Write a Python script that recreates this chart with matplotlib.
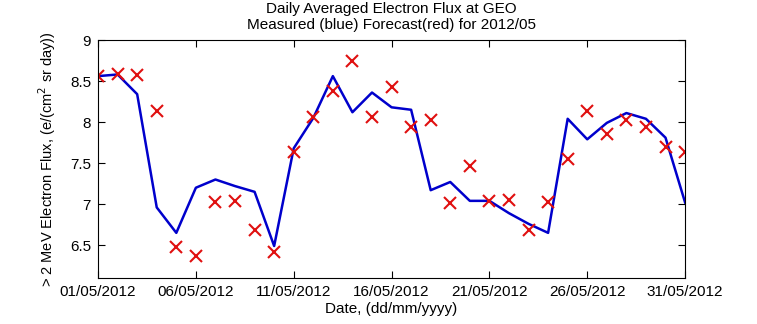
import matplotlib
matplotlib.use('Agg')
import matplotlib.pyplot as plt

plt.rcParams['font.family'] = ['Liberation Sans', 'DejaVu Sans']

days = list(range(1, 32))
measured = [8.56, 8.58, 8.34, 6.96, 6.65, 7.20, 7.30, 7.22, 7.15, 6.49,
            7.68, 8.05, 8.56, 8.12, 8.36, 8.18, 8.15, 7.17, 7.27, 7.04,
            7.04, 6.89, 6.76, 6.65, 8.04, 7.79, 7.99, 8.11, 8.04, 7.81,
            7.02]
forecast = [8.56, 8.58, 8.57, 8.14, 6.48, 6.37, 7.02, 7.04, 6.69, 6.42,
            7.64, 8.06, 8.38, 8.75, 8.06, 8.43, 7.94, 8.03, 7.01, 7.47,
            7.04, 7.05, 6.69, 7.03, 7.55, 8.14, 7.86, 8.02, 7.94, 7.70,
            7.63]
tick_days = [1, 6, 11, 16, 21, 26, 31]
tick_labels = ['%02d/05/2012' % d for d in tick_days]
yticks = [6.5, 7, 7.5, 8, 8.5, 9]

fig = plt.figure(figsize=(7.57, 3.24), dpi=100)
ax = fig.add_axes([0.1295, 0.142, 0.7755, 0.7345])

ax.plot(days, measured, color='#0000cc', lw=1.8)
ax.plot(days, forecast, 'x', color='#e01010', ms=9, mew=1.5)

ax.set_xlim(1, 31)
ax.set_ylim(6.1, 9)
ax.set_xticks(tick_days)
ax.set_xticklabels(tick_labels)
ax.set_yticks(yticks)
ax.set_yticklabels(['6.5', '7', '7.5', '8', '8.5', '9'])
ax.tick_params(direction='in', length=5, width=0.8, top=True, right=True,
               labelsize=11, pad=5)
for s in ax.spines.values():
    s.set_linewidth(0.8)

ax.set_xlabel('Date, (dd/mm/yyyy)', fontsize=11, labelpad=2)
ax.set_ylabel('> 2 MeV Electron Flux, (e/(cm$^2$ sr day))', fontsize=10.5)
ax.yaxis.set_label_coords(-0.068, 0.5)
ax.set_title('Daily Averaged Electron Flux at GEO\nMeasured (blue) Forecast(red) for 2012/05',
             fontsize=11, linespacing=1.2, pad=8)

fig.savefig('out.png', dpi=100)
